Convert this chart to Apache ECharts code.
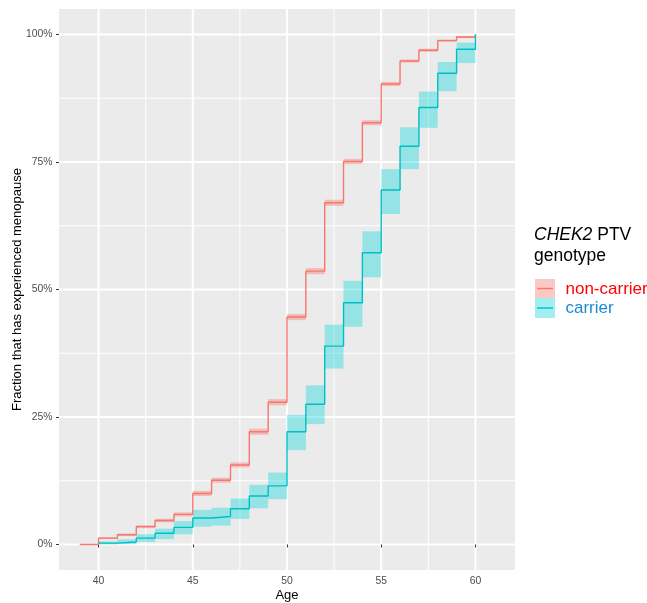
<!DOCTYPE html>
<html>
<head>
<meta charset="utf-8">
<script src="https://cdn.jsdelivr.net/npm/echarts@6/dist/echarts.min.js"></script>
<style>
html,body{margin:0;padding:0;background:#fff;}
#chart{width:647px;height:603px;}
</style>
</head>
<body>
<div id="chart"></div>
<script>
// ---- data ----
const agesNonCarrier = [39,40,41,42,43,44,45,46,47,48,49,50,51,52,53,54,55,56,57,58,59,60];
const nonCarrier = [0,1.25,1.9,3.5,4.7,5.9,10.0,12.6,15.6,22.1,27.9,44.6,53.6,67.0,75.1,82.7,90.3,94.8,96.9,98.8,99.5,100];
const nonCarrierLower = [0,1.05,1.65,3.2,4.35,5.5,9.5,12.1,15.1,21.5,27.3,44.0,53.0,66.4,74.6,82.2,89.9,94.5,96.6,98.6,99.3];
const nonCarrierUpper = [0,1.45,2.15,3.8,5.05,6.3,10.5,13.1,16.1,22.7,28.5,45.2,54.2,67.6,75.6,83.2,90.7,95.1,97.2,99.0,99.7];

const agesCarrier = [40,41,42,43,44,45,46,47,48,49,50,51,52,53,54,55,56,57,58,59,60];
const carrier = [0.27,0.5,1.25,2.2,3.35,5.2,5.5,7.0,9.5,11.5,22.1,27.5,38.9,47.4,57.2,69.5,78.1,85.7,92.4,97.1,100];
const carrierLower = [0,0.1,0.5,1.05,2.0,3.5,3.7,5.0,7.1,8.9,18.5,23.6,34.5,42.7,52.4,64.8,73.6,81.7,88.9,94.4];
const carrierUpper = [0.6,1.0,2.0,3.1,4.6,6.8,7.2,9.0,11.7,14.1,25.4,31.2,43.1,51.7,61.4,73.6,81.8,88.8,94.6,98.4];

const xTicks = [40,45,50,55,60];
const xMinor = [42.5,47.5,52.5,57.5];
const yTicks = [0,25,50,75,100];
const yMinor = [12.5,37.5,62.5,87.5];

// ---- build ----
function pairs(xs, ys){ return ys.map((v,i)=>[xs[i], v]); }
function ribbonRows(xs, lo, hi){ return lo.map((v,i)=>[xs[i], xs[i+1], v, hi[i]]); }

function ribbonItem(color){
  return function(params, api){
    const p0 = api.coord([api.value(0), api.value(3)]);
    const p1 = api.coord([api.value(1), api.value(2)]);
    return {type:'rect', shape:{x:p0[0], y:p0[1], width:p1[0]-p0[0], height:p1[1]-p0[1]}, style:{fill:color}};
  };
}
function vGrid(width){
  return function(params, api){
    const cs = params.coordSys;
    const x = api.coord([api.value(0), 0])[0];
    return {type:'line', shape:{x1:x, y1:cs.y, x2:x, y2:cs.y+cs.height}, style:{stroke:'#ffffff', lineWidth:width}};
  };
}
function hGrid(width){
  return function(params, api){
    const cs = params.coordSys;
    const y = api.coord([40, api.value(1)])[1];
    return {type:'line', shape:{x1:cs.x, y1:y, x2:cs.x+cs.width, y2:y}, style:{stroke:'#ffffff', lineWidth:width}};
  };
}

const RED = '#F8766D', CYAN = '#00BFC4';
const RED_FILL = 'rgba(248,118,109,0.4)', CYAN_FILL = 'rgba(20,215,220,0.4)';
const FONT = '"Liberation Sans", Arial, sans-serif';

const chart = echarts.init(document.getElementById('chart'), null, {renderer:'canvas'});
chart.setOption({
  animation:false,
  backgroundColor:'#ffffff',
  grid:{left:59, top:9, width:456, height:561, show:true, backgroundColor:'#EBEBEB', borderWidth:0,
        containLabel:false, outerBoundsMode:'none'},
  xAxis:{
    type:'value', min:37.9, max:62.1,
    name:'Age', nameLocation:'middle', nameGap:19, nameMoveOverlap:false,
    nameTextStyle:{color:'#000', fontSize:13, fontFamily:FONT},
    axisLine:{show:false},
    axisTick:{show:true, length:3, customValues:xTicks, lineStyle:{color:'#333333', width:1}},
    axisLabel:{customValues:xTicks, color:'#4D4D4D', fontSize:10.4, fontFamily:FONT, margin:6},
    splitLine:{show:false}
  },
  yAxis:{
    type:'value', min:-5, max:105,
    name:'Fraction that has experienced menopause', nameLocation:'middle', nameGap:35, nameRotate:90, nameMoveOverlap:false,
    nameTextStyle:{color:'#000', fontSize:13, fontFamily:FONT},
    axisLine:{show:false},
    axisTick:{show:true, length:3, customValues:yTicks, lineStyle:{color:'#333333', width:1}},
    axisLabel:{customValues:yTicks, formatter:'{value}%', color:'#4D4D4D', fontSize:10.4, fontFamily:FONT, margin:6.5},
    splitLine:{show:false}
  },
  series:[
    {type:'custom', name:'xminor', silent:true, z:0, renderItem:vGrid(1), data:xMinor.map(v=>[v,0]), encode:{x:0,y:1}, clip:true},
    {type:'custom', name:'yminor', silent:true, z:0, renderItem:hGrid(1), data:yMinor.map(v=>[40,v]), encode:{x:0,y:1}, clip:true},
    {type:'custom', name:'xmajor', silent:true, z:0, renderItem:vGrid(2), data:xTicks.map(v=>[v,0]), encode:{x:0,y:1}, clip:true},
    {type:'custom', name:'ymajor', silent:true, z:0, renderItem:hGrid(2), data:yTicks.map(v=>[40,v]), encode:{x:0,y:1}, clip:true},
    {type:'custom', name:'non-carrier band', silent:true, z:1, renderItem:ribbonItem(RED_FILL),
      data:ribbonRows(agesNonCarrier, nonCarrierLower, nonCarrierUpper), encode:{x:[0,1], y:[2,3]}},
    {type:'custom', name:'carrier band', silent:true, z:1, renderItem:ribbonItem(CYAN_FILL),
      data:ribbonRows(agesCarrier, carrierLower, carrierUpper), encode:{x:[0,1], y:[2,3]}},
    {type:'line', name:'non-carrier', step:'end', z:2, showSymbol:false, symbol:'none',
      lineStyle:{color:RED, width:1.4}, data:pairs(agesNonCarrier, nonCarrier)},
    {type:'line', name:'carrier', step:'end', z:2, showSymbol:false, symbol:'none',
      lineStyle:{color:CYAN, width:1.4}, data:pairs(agesCarrier, carrier)}
  ],
  graphic:[
    {type:'text', x:534, y:226, style:{text:'{i|CHEK2} PTV', font:'17.5px '+FONT, fill:'#000',
      rich:{i:{fontStyle:'italic', fontSize:17.5, fontFamily:FONT, fill:'#000'}}}},
    {type:'text', x:534, y:247, style:{text:'genotype', font:'17.5px '+FONT, fill:'#000'}},
    {type:'rect', shape:{x:535, y:279, width:20, height:19}, style:{fill:RED_FILL}},
    {type:'line', shape:{x1:537, y1:288.5, x2:553, y2:288.5}, style:{stroke:RED, lineWidth:1.4}},
    {type:'rect', shape:{x:535, y:298, width:20, height:20}, style:{fill:CYAN_FILL}},
    {type:'line', shape:{x1:537, y1:308, x2:553, y2:308}, style:{stroke:CYAN, lineWidth:1.4}},
    {type:'text', x:565.5, y:289, style:{text:'non-carrier', font:'17px '+FONT, fill:'#FF0000', verticalAlign:'middle'}},
    {type:'text', x:565.5, y:308, style:{text:'carrier', font:'17px '+FONT, fill:'#1A8AD4', verticalAlign:'middle'}}
  ]
});
</script>
</body>
</html>
